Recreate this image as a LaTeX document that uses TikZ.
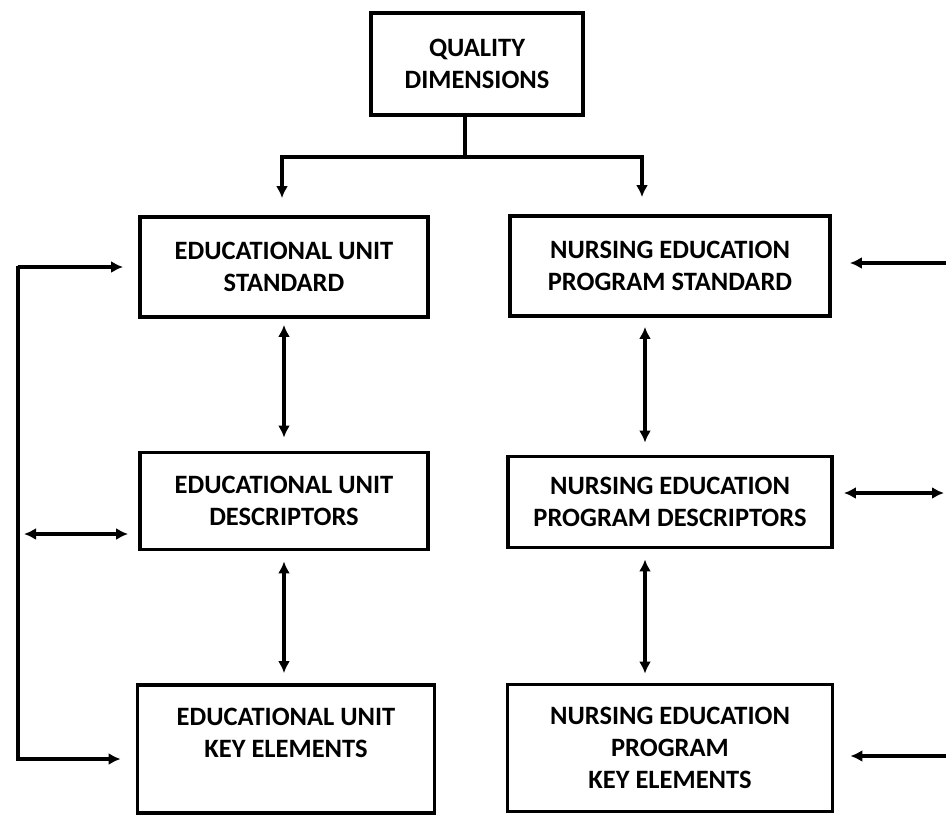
\documentclass[tikz,border=0pt]{standalone}
\usepackage{fontspec}
\setmainfont{Carlito}
\usetikzlibrary{arrows.meta}
\usetikzlibrary{calc}
\usetikzlibrary{positioning}

\begin{document}
\begin{tikzpicture}[x=1pt,y=1pt,line width=3.8pt,node distance=236pt]
	\tikzstyle{box}=[draw, rectangle, inner sep=0pt, align=center, font=\fontsize{26.5}{32}\selectfont\bfseries]
	\tikzstyle{arr}=[-{Latex[length=12pt,width=12pt]}, line width=3.3pt]
	\tikzstyle{dbl}=[{Latex[length=12pt,width=12pt]}-{Latex[length=12pt,width=12pt]}, line width=3.3pt]
	\useasboundingbox (0,0) rectangle (946,-815);

	\node[box, minimum width=212pt, minimum height=102pt] (Q) at (477,-64) {QUALITY\\DIMENSIONS};
	\node[box, minimum width=288pt, minimum height=100pt] (EUS) at (284,-267) {EDUCATIONAL UNIT\\STANDARD};
	\node[box, minimum width=320pt, minimum height=100pt] (NEPS) at (670,-266) {NURSING EDUCATION\\PROGRAM STANDARD};
	\node[box, minimum width=288pt, minimum height=97pt] (EUD) [below of=EUS, node distance=234pt] {EDUCATIONAL UNIT\\DESCRIPTORS};
	\node[box, minimum width=324pt, minimum height=91pt] (NEPD) [below of=NEPS] {NURSING EDUCATION\\PROGRAM DESCRIPTORS};
	\node[box, minimum width=297pt, minimum height=128pt] (EUK) [below of=EUD, node distance=248pt, xshift=2pt] {EDUCATIONAL UNIT\\KEY ELEMENTS\\\phantom{X}};
	\node[box, minimum width=325pt, minimum height=127pt] (NEPK) [below of=NEPD, node distance=246pt] {NURSING EDUCATION\\PROGRAM\\KEY ELEMENTS};

	% top split
	\coordinate (j) at (465,-157);
	\draw[line width=4.3pt] (Q.south -| j) -- (j);
	\draw[arr, line width=4.3pt, shorten >=17pt] (j) -| ([xshift=-2pt]EUS.north);
	\draw[arr, line width=4.3pt, shorten >=17pt] (j) -| ([xshift=-28pt]NEPS.north);

	\draw[dbl, shorten <=6pt, shorten >=13pt] (EUS) -- (EUD);
	\draw[dbl, shorten <=10pt, shorten >=10pt] (EUD.south) -- (EUK.north -| EUD.south);
	\draw[dbl, shorten <=9pt, shorten >=12pt] ([xshift=-25pt]NEPS.south) -- ([xshift=-25pt]NEPD.north);
	\draw[dbl, shorten <=10pt, shorten >=9pt] ([xshift=-25pt]NEPD.south) -- ([xshift=-25pt]NEPD.south |- NEPK.north);

	% left side
	\coordinate (lt) at (18,-266);
	\coordinate (lm) at (24,-534);
	\draw[dbl, line width=3.8pt, shorten <=15pt, shorten >=15pt] (EUS.west) -| (lt) |- ([yshift=-10pt]EUK.west);
	\draw[dbl, shorten >=10pt] (lm) -- (lm -| EUD.west);

	% right side
	\coordinate (r1) at (946,-263);
	\coordinate (r2) at (944,-493);
	\coordinate (r3) at (946,-756);
	\draw[arr, shorten >=18pt] (r1) -- (r1 -| NEPS.east);
	\draw[dbl, shorten >=10pt] (r2) -- (r2 -| NEPD.east);
	\draw[arr, shorten >=16pt] (r3) -- (r3 -| NEPK.east);
\end{tikzpicture}
\end{document}
